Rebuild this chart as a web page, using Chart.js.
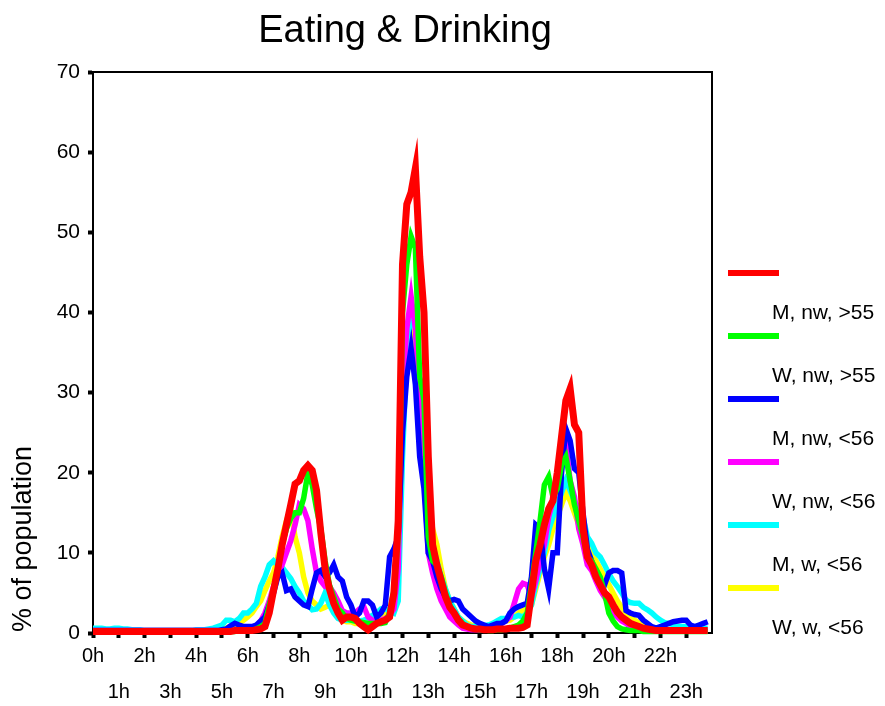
<!DOCTYPE html>
<html>
<head>
<meta charset="utf-8">
<title>Eating &amp; Drinking</title>
<script src="https://cdn.jsdelivr.net/npm/chart.js@4.4.1/dist/chart.umd.min.js"></script>
<style>
  html, body { margin: 0; padding: 0; background: #fff; }
  #chart { display: block; }
</style>
</head>
<body>
<canvas id="chart" width="885" height="706"></canvas>
<script>
// share of population eating/drinking, sampled every 10 minutes (6 values per hour)
const slotsPerHour = 6;
const hourLabels = ['0h', '1h', '2h', '3h', '4h', '5h', '6h', '7h', '8h', '9h', '10h', '11h',
  '12h', '13h', '14h', '15h', '16h', '17h', '18h', '19h', '20h', '21h', '22h', '23h'];
const yTicks = [0, 10, 20, 30, 40, 50, 60, 70];

const seriesLabels = ['M, nw, >55', 'W, nw, >55', 'M, nw, <56', 'W, nw, <56', 'M, w, <56', 'W, w, <56'];
const seriesColors = ['#ff0000', '#00ff00', '#0000ff', '#ff00ff', '#00ffff', '#ffff00'];

const mNwOld = [
  .2, .2, .2, .2, .2, .2,   .2, .2, .2, .2, .2, .2,   .2, .2, .2, .2, .2, .2,   .2, .2, .2, .2, .2, .2,
  .2, .2, .2, .2, .2, .2,   .2, .2, .2, .3, .3, .3,   .3, .3, .4, .5, .8, 2.5,  5.3, 8, 11, 13.5, 16, 18.6,
  19, 20.3, 20.9, 20.3, 17.8, 12.5,   8, 5.5, 3.7, 2.5, 1.6, 2,   2, 1.8, 1.2, .8, .4, .8,   1.2, 1.4, 1.6, 2, 5, 14,
  46, 53.5, 55, 58, 47, 40,   22, 11, 8.5, 6.5, 4.5, 3.2,   2.5, 1.6, 1, .8, .6, .5,   .5, .4, .4, .4, .5, .5,
  .5, .6, .6, .6, .7, 1,   5, 9, 11, 13.5, 15.5, 16.5,   20, 24.5, 29, 30.5, 26, 25,   13, 9.5, 8.5, 7, 6, 5,
  4.5, 3.5, 2.6, 2, 1.6, 1.2,   1, .8, .6, .5, .4, .3,   .3, .3, .3, .3, .3, .3,   .3, .3, .3, .3, .3, .3
];
const wNwOld = [
  .2, .2, .2, .2, .2, .2,   .2, .2, .2, .2, .2, .2,   .2, .2, .2, .2, .2, .2,   .2, .2, .2, .2, .2, .2,
  .2, .2, .2, .2, .2, .2,   .2, .2, .2, .2, .3, .3,   .3, .3, .5, .8, 1.2, 3.5,   5.5, 8, 11, 13, 14.3, 15,
  15, 16.8, 20, 18.5, 15.5, 13,   9, 6, 4.5, 3, 2.5, 1.8,   1.6, 1.5, 1.4, 1.3, 1.2, 1.2,   1.2, 1.2, 1.3, 2.5, 5.3, 12,
  40, 46, 49.5, 48, 32, 29,   12, 9, 8.5, 7, 5, 3.5,   2.5, 1.8, 1.2, .8, .6, .5,   .4, .4, .3, .3, .4, .4,
  .5, .6, .8, 1, 1.5, 2.5,   6, 10, 14, 18.5, 19.5, 17,   18, 21, 22, 19, 16, 14,   12, 9.5, 9, 8, 7, 5,
  2.5, 1.5, .8, .5, .4, .3,   .3, .3, .2, .2, .2, .2,   .2, .2, .2, .2, .2, .2,   .2, .2, .2, .2, .2, .2
];
const mNwYoung = [
  .3, .3, .3, .3, .3, .3,   .3, .3, .3, .3, .3, .3,   .3, .3, .3, .3, .3, .3,   .3, .3, .3, .3, .3, .3,
  .3, .3, .3, .3, .3, .3,   .4, .5, .9, 1.2, 1, .8,   .8, .8, 1, 1.5, 2, 3.5,   5, 7, 7.5, 5.3, 5.5, 4.5,
  4, 3.5, 3.3, 5.5, 7.5, 7.8,   7, 7.5, 8.5, 7, 6.5, 4.5,   3.5, 2, 2.5, 4, 4, 3.5,   2, 2.5, 3.5, 9.5, 10.5, 12,
  25, 32, 35.5, 31, 22, 18,   10, 9, 7, 5.5, 4.5, 4,   4.2, 4, 3, 2.5, 2, 1.5,   1.2, 1, .8, 1, 1.2, 1.2,
  1.5, 2.5, 3, 3.3, 3.5, 3.7,   7, 13.5, 13, 8, 5.5, 10,   10, 20, 25.5, 24, 20.5, 20,   15, 10.5, 9, 7.5, 6.5, 6,
  7.5, 7.8, 7.8, 7.5, 2.8, 2.5,   2.3, 2.2, 1.6, 1.2, .8, .6,   .8, 1, 1.2, 1.4, 1.5, 1.6,   1.6, 1, .8, 1, 1.2, 1.4
];
const wNwYoung = [
  .3, .3, .3, .3, .3, .3,   .3, .3, .3, .3, .3, .3,   .3, .3, .3, .3, .3, .3,   .3, .3, .3, .3, .3, .3,
  .3, .3, .3, .3, .3, .3,   .3, .3, .3, .3, .3, .3,   .4, .5, .8, 1.5, 2.5, 4,   5.8, 7, 8.5, 10, 11.5, 13.5,
  16, 15.5, 14, 10.5, 7.5, 6.5,   5.8, 5.8, 5, 4, 2.8, 2.5,   2.5, 2.5, 3, 3.3, 2, 1.6,   1.6, 1.6, 1.8, 2.2, 3, 8,
  30, 38, 42, 38, 28, 20,   10, 7.5, 5.5, 4, 3, 2,   1.5, 1, .6, .5, .4, .4,   .4, .5, .6, .8, .9, 1.2,
  1.5, 2, 3.7, 5.5, 6.2, 6,   4.5, 6.5, 9, 11, 14.5, 16.5,   18.5, 22.5, 23.5, 19, 17, 13,   11, 8.5, 7.8, 6.5, 5.3, 4.5,
  3.7, 2.5, 2, 1.5, 1.2, .8,   .5, .4, .3, .3, .3, .3,   .3, .3, .3, .3, .3, .3,   .3, .3, .3, .3, .3, .3
];
const mWYoung = [
  .6, .6, .6, .5, .5, .6,   .6, .5, .5, .4, .4, .4,   .3, .3, .3, .3, .3, .3,   .3, .3, .3, .3, .3, .3,
  .4, .4, .4, .5, .6, .8,   1, 1.6, 1.6, 1.4, 1.8, 2.5,   2.5, 3, 3.7, 5.8, 7, 8.5,   9, 8.5, 8.2, 7.5, 6.8, 5.8,
  5, 4, 3.5, 2.9, 3, 3.7,   5, 3.5, 2.5, 1.8, 1.6, 1.6,   1.6, 1.5, 1.5, 1.6, 1.8, 2.2,   2.5, 3, 3, 2.8, 2.5, 4,
  22, 35, 40, 38, 30, 22,   14, 11, 9, 7, 5.5, 4,   3, 2, 1.5, 1, .8, .8,   .8, .9, 1, 1.2, 1.5, 1.8,
  1.8, 2, 2, 2.2, 2, 2.5,   3.5, 6, 8, 10, 12.8, 14.5,   16, 17.5, 19, 17.8, 16.5, 15.5,   14.5, 12, 11.2, 10, 9.5, 8.5,
  7.4, 6.5, 5.8, 5, 4.1, 3.8,   3.7, 3.7, 3.2, 2.9, 2.5, 2,   1.6, 1.3, 1.2, 1, .8, .8,   .8, .7, .7, .6, .6, .6
];
const wWYoung = [
  .3, .3, .3, .3, .3, .3,   .3, .3, .3, .3, .3, .3,   .3, .3, .3, .3, .3, .3,   .3, .3, .3, .3, .3, .3,
  .3, .3, .3, .3, .4, .4,   .4, .6, .8, 1, 1.2, 1.6,   2, 2.5, 3.3, 4, 5.3, 6.5,   7.5, 9.5, 12, 14, 15.5, 12,
  10, 7, 5, 4, 3.5, 3,   3.2, 3.5, 2.8, 2.2, 1.6, 1.4,   1.4, 1.2, 1.2, 1.5, 1.6, 1.8,   2, 2.2, 2.5, 2.5, 3.5, 8,
  28, 36, 38, 36, 30, 24,   16, 13, 11, 8, 5.5, 4,   3, 2, 1.5, 1.2, 1, .8,   .8, .8, .9, 1, 1.2, 1.5,
  1.5, 1.6, 2, 2.5, 2.8, 3,   3.5, 5.5, 7.5, 9.5, 11, 13,   14.5, 16, 17.5, 16.5, 15, 13.5,   12.5, 11, 10, 9, 8, 7,
  6, 5, 4, 3.2, 2.5, 2,   1.6, 1.3, 1, .8, .6, .5,   .4, .4, .4, .4, .4, .4,   .4, .4, .4, .4, .4, .4
];
const seriesValues = [mNwOld, wNwOld, mNwYoung, wNwYoung, mWYoung, wWYoung];

const FONT = '"Liberation Sans", Arial, Helvetica, sans-serif';

// x in hours: slot i starts at i/6 h
function toPoints(values) {
  return values.map((v, i) => ({ x: i / slotsPerHour, y: v }));
}

const datasets = seriesValues.map((vals, i) => ({
  label: seriesLabels[i],
  data: toPoints(vals),
  borderColor: seriesColors[i],
  backgroundColor: seriesColors[i],
  borderWidth: i === 0 ? 7 : 5.5,
  pointRadius: 0,
  tension: 0,
  clip: false
}));

// title, rotated y title, closing frame and the side legend
const decorations = {
  id: 'decorations',
  afterDatasetsDraw(chart) {
    const { ctx, chartArea: a } = chart;
    ctx.save();

    ctx.strokeStyle = '#000';
    ctx.lineWidth = 2;
    ctx.beginPath();
    ctx.moveTo(a.left, a.top);
    ctx.lineTo(a.right, a.top);
    ctx.lineTo(a.right, a.bottom);
    ctx.stroke();

    ctx.fillStyle = '#000';
    ctx.font = '38px ' + FONT;
    ctx.textAlign = 'center';
    ctx.textBaseline = 'alphabetic';
    ctx.fillText('Eating & Drinking', 405, 42);

    ctx.save();
    ctx.translate(31, 539);
    ctx.rotate(-Math.PI / 2);
    ctx.font = '27px ' + FONT;
    ctx.fillText('% of population', 0, 0);
    ctx.restore();

    ctx.font = '21px ' + FONT;
    ctx.textAlign = 'left';
    ctx.textBaseline = 'middle';
    chart.data.datasets.forEach((ds, i) => {
      const y = 273 + i * 63;
      ctx.strokeStyle = ds.borderColor;
      ctx.lineWidth = 6;
      ctx.beginPath();
      ctx.moveTo(728, y);
      ctx.lineTo(779, y);
      ctx.stroke();
      ctx.fillStyle = '#000';
      ctx.fillText(ds.label, 772, y + 40);
    });

    ctx.restore();
  }
};

new Chart(document.getElementById('chart'), {
  type: 'line',
  data: { datasets },
  plugins: [decorations],
  options: {
    responsive: false,
    devicePixelRatio: 1,
    animation: false,
    layout: { padding: { left: 33, right: 173, top: 72, bottom: 0 } },
    plugins: {
      legend: { display: false },
      tooltip: { enabled: false },
      title: { display: false }
    },
    scales: {
      x: {
        type: 'linear',
        min: 0,
        max: 24,
        afterFit(scale) { scale.height = 73; },
        afterBuildTicks(scale) {
          scale.ticks = hourLabels.map((_, h) => ({ value: h }));
        },
        border: { display: true, color: '#000', width: 2 },
        grid: {
          drawOnChartArea: false,
          drawTicks: true,
          tickLength: 5,
          tickWidth: 4,
          tickColor: '#000'
        },
        ticks: {
          autoSkip: false,
          maxRotation: 0,
          padding: 0,
          color: '#000',
          font: { family: FONT, size: 20, lineHeight: 1.83 },
          callback: (v) => (v % 2 === 1 ? ['', hourLabels[v]] : hourLabels[v])
        }
      },
      y: {
        min: 0,
        max: 70,
        afterFit(scale) { scale.width = 60; },
        afterBuildTicks(scale) {
          scale.ticks = yTicks.map((v) => ({ value: v }));
        },
        border: { display: true, color: '#000', width: 2 },
        grid: {
          drawOnChartArea: false,
          drawTicks: true,
          tickLength: 5,
          tickWidth: 4,
          tickColor: '#000'
        },
        ticks: {
          padding: 8,
          color: '#000',
          font: { family: FONT, size: 21 }
        }
      }
    }
  }
});
</script>
</body>
</html>
